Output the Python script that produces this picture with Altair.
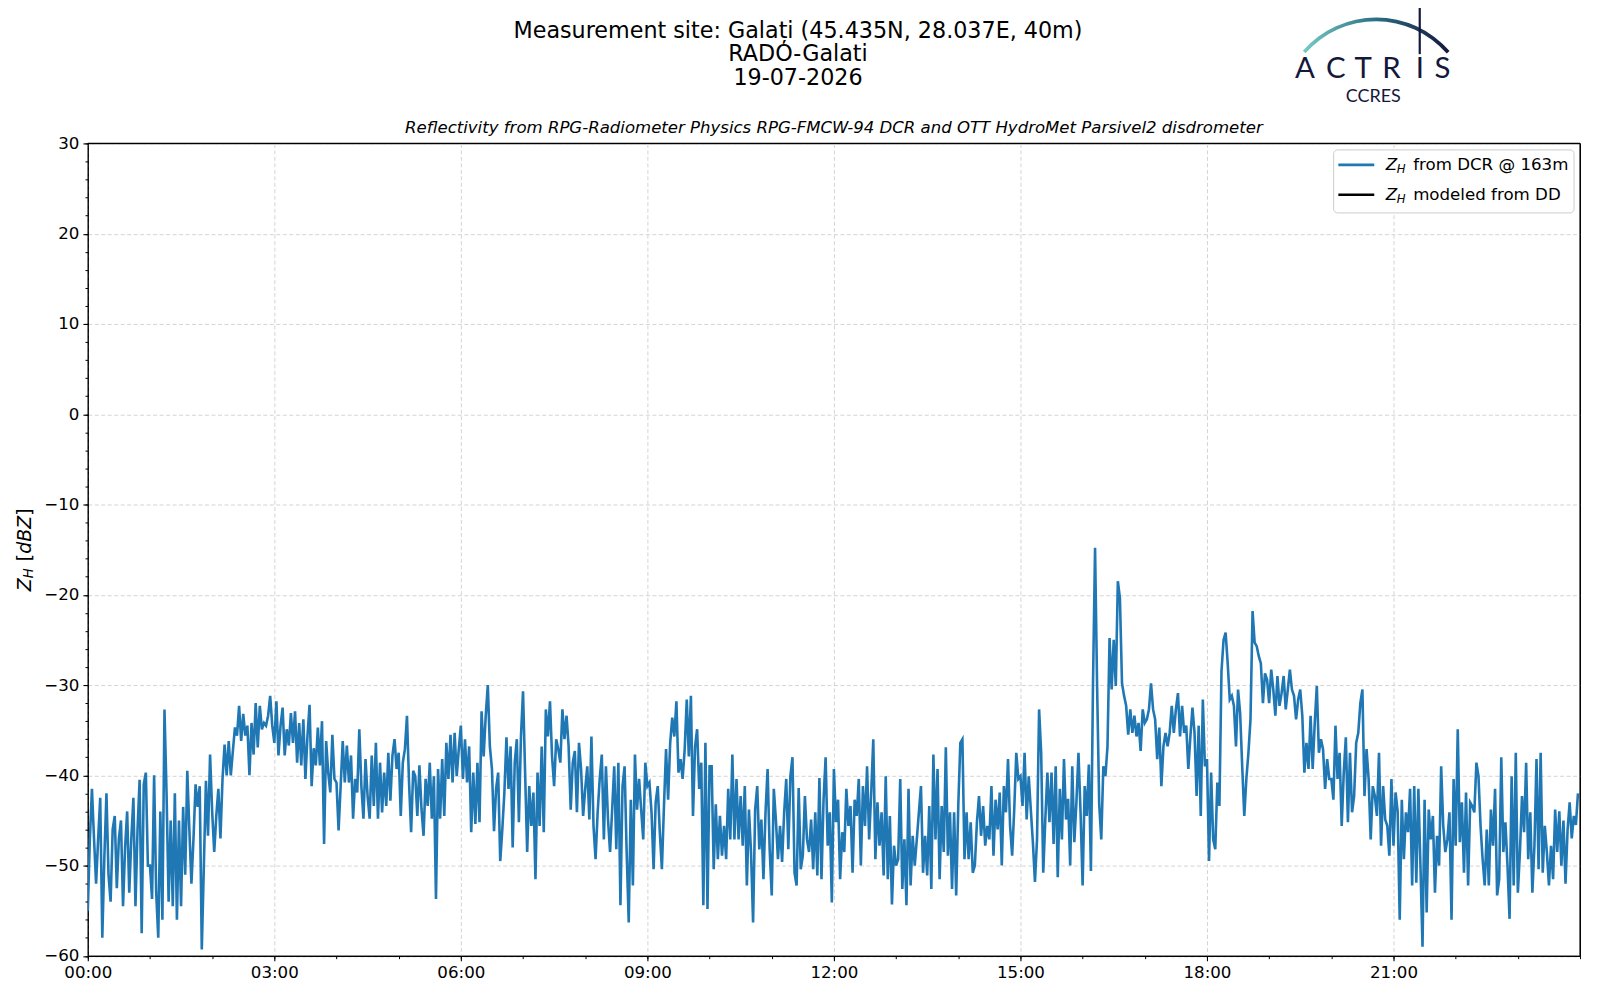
import altair as alt
import pandas as pd

# ---------------- data: Z_H from DCR, 2-minute samples, one list per hour ----------------
STEP_MIN = 2
zh_h00 = [-55, -47, -41.5, -47, -52, -47, -42.5, -58, -49, -42, -51, -54, -46, -44.5, -52.5, -47, -45, -54.5, -48, -44, -53, -47, -42.5, -54.5, -46, -40.5, -57.5, -41, -39.7, -50]
zh_h01 = [-50, -53.7, -40, -53, -58, -44, -56, -32.7, -42, -54, -45, -54.5, -42, -56, -45, -54.5, -43.5, -51, -39.5, -46, -52, -47, -41, -43.5, -41.2, -59.3, -50, -40.6, -46.7, -37.7]
zh_h02 = [-44, -48.5, -44.5, -41.5, -47, -40.4, -36.6, -40, -36.2, -40, -37.3, -34.7, -35.6, -32.3, -36.2, -33.2, -35.6, -34.5, -40, -34.2, -37.7, -32, -36.9, -32.3, -34.9, -34.2, -34.5, -33.4, -31.2, -34.5]
zh_h03 = [-36.4, -31.8, -37.8, -34.5, -32.5, -37.8, -34.9, -36.7, -33.1, -36.4, -32.9, -38.6, -34.2, -38.9, -33.8, -40.4, -35.6, -32.2, -41.2, -37, -38.9, -34.7, -38.9, -34, -47.6, -36.2, -39.7, -41.9, -35.5, -40.4]
zh_h04 = [-40.8, -46.1, -41.2, -36.2, -40.8, -36.7, -40.8, -37.8, -44.8, -40.4, -41.9, -34.9, -41.2, -44.8, -38.2, -42.3, -44.8, -37.8, -43.4, -36.4, -44.8, -38.6, -44.1, -39.7, -43.4, -37.5, -42.8, -37.8, -36, -39.3]
zh_h05 = [-37.5, -44.5, -38.6, -37.1, -33.4, -40.8, -46.3, -39.5, -40.1, -44.5, -38.9, -43.7, -46.7, -40.4, -43.4, -38.6, -44.8, -40.1, -53.7, -39.3, -44.8, -38.2, -44.5, -36.4, -40.4, -35.5, -40.8, -35.3, -40.1, -37.1]
zh_h06 = [-34.5, -40.4, -36, -40.8, -36.8, -46.3, -39.7, -45.4, -38.6, -45.2, -32.9, -37.9, -33.4, -30, -36.8, -39.3, -46.2, -41.5, -39.7, -49.5, -46, -41.9, -35.8, -41.5, -36.8, -48, -38.6, -36, -45.2, -35.7]
zh_h07 = [-30.7, -39.7, -48.5, -41.2, -45.6, -41.9, -51.5, -39.7, -45.6, -36.8, -46.3, -32.7, -35.7, -31.8, -37.9, -41.2, -36, -37.1, -38.6, -32.7, -36, -33.4, -36.8, -43.8, -38.6, -37.3, -44.1, -36.4, -39.3, -44.5]
zh_h08 = [-41.5, -39, -44.9, -35.7, -45.6, -49.3, -44.1, -40.4, -37.7, -47.1, -39, -44.9, -48.5, -43.8, -39, -48.2, -38.6, -54.4, -41.2, -39, -48.5, -56.3, -42.7, -52.2, -37.7, -43.8, -40.4, -43.8, -47.1, -38.6]
zh_h09 = [-41.2, -40.8, -44.1, -50.4, -43, -41.2, -46.3, -50.4, -43.4, -37.1, -42.7, -36.4, -33.6, -35.7, -31.8, -39.7, -38.2, -40.4, -37.1, -31.6, -37.9, -31.2, -44.5, -36.8, -34.9, -41.5, -38.6, -54.4, -36.4, -54.8]
zh_h10 = [-39, -39, -50.4, -43.2, -49.3, -44.5, -48.9, -45.6, -49.3, -41.5, -47.1, -37.7, -47.1, -40.4, -47.1, -42.3, -47.8, -41.2, -52.2, -43.8, -48.5, -56.3, -43.8, -41.2, -48.2, -44.9, -51.5, -44.1, -39.3, -48.2]
zh_h11 = [-53.3, -41.5, -44.9, -49.3, -45.6, -49.6, -44.1, -40.4, -48.2, -40.1, -38, -50.8, -52.2, -41.4, -50.4, -48.9, -42.3, -47.1, -48.5, -44.9, -50.4, -44.1, -51.1, -40.3, -51.5, -42.7, -38, -47.8, -44.1, -54.1]
zh_h12 = [-39.3, -45.2, -42.7, -51.5, -46.3, -48.5, -41.5, -45.6, -43.4, -50.8, -42.7, -44.5, -40.4, -50, -41.2, -45.6, -39, -47.1, -41.9, -36, -49.3, -43, -47.8, -44.1, -51.1, -40.1, -51.5, -44.5, -54.3, -47.8]
zh_h13 = [-50, -49.3, -40.4, -52.6, -47.1, -54.4, -41.5, -52.2, -46.7, -50, -47.1, -44.1, -41.2, -50.8, -46.7, -51.1, -43.4, -52.6, -37.7, -47.1, -39.3, -51.5, -43.4, -48.5, -36.9, -48.9, -44.1, -52.6, -44.1, -53.3]
zh_h14 = [-43.4, -36.4, -36, -49.3, -44.1, -49.3, -45.2, -50.8, -50, -45.2, -42.3, -46.7, -43.4, -47.8, -45.6, -47.1, -41.2, -48.9, -42.7, -46, -41.9, -50, -41.2, -44.1, -38.2, -45.6, -48.9, -43.8, -37.5, -40.4]
zh_h15 = [-40.1, -43.4, -37.5, -44.9, -40.1, -43.8, -47.4, -51.8, -47.1, -32.7, -37.5, -50.8, -44.9, -39.7, -45.2, -39.7, -47.6, -39, -51.3, -41.5, -47.1, -38.2, -44.9, -42.6, -50, -39, -47.4, -43, -37.5, -44.1]
zh_h16 = [-52.2, -41.2, -44.5, -38.8, -50.6, -30, -14.8, -30.3, -43.2, -47.1, -39, -40.1, -36.8, -24.8, -30.5, -25, -30.1, -18.5, -20.4, -29.8, -31.2, -32.3, -35.5, -32.7, -35.3, -33.4, -35.7, -34.2, -37.3, -32.7]
zh_h17 = [-34.2, -33.8, -32.7, -29.8, -32.7, -33.8, -38.2, -34.7, -41.2, -36.8, -35.3, -36.8, -35.3, -32.3, -35.3, -32.7, -30.9, -35.7, -32.3, -35.3, -34.5, -39.3, -35.7, -32.5, -35.3, -42.3, -34.5, -44.5, -31.6, -39]
zh_h18 = [-38.2, -49.5, -39.7, -47.1, -48.2, -40.8, -43.4, -28.5, -25, -24.2, -27.6, -31.6, -31.2, -32.3, -36.8, -30.5, -33.1, -39, -44.5, -40.4, -37.5, -33.8, -21.8, -25.3, -25.7, -26.8, -27.6, -32, -28.7, -29.4]
zh_h19 = [-32, -28.3, -30.5, -33.4, -29, -32.3, -30.9, -29, -32.7, -30.5, -28.3, -30.5, -31.2, -33.8, -31.6, -30.5, -33.4, -39.7, -36.4, -39.3, -33.4, -39.3, -34.2, -30.1, -37.5, -36, -37.1, -41.5, -38.2, -40.4]
zh_h20 = [-40.4, -42.7, -34.5, -40.4, -37.5, -45.6, -39.7, -35.8, -45.2, -37.5, -44.1, -42.3, -36.4, -35.3, -32, -30.5, -42.3, -37.1, -40.4, -47.1, -41.2, -42.3, -44.5, -37.5, -47.8, -41.2, -44.9, -45.6, -48.9, -40.4]
zh_h21 = [-47.8, -41.9, -44, -56, -42.7, -49.3, -44.1, -46.3, -41.5, -52.2, -41.2, -51.9, -41.5, -50, -59, -42.7, -55.2, -43.8, -47.1, -44.5, -53, -46.7, -50, -39, -45.6, -48.5, -47.1, -44.1, -56, -40.4]
zh_h22 = [-47.8, -34.9, -47.4, -43, -50.8, -41.9, -52.2, -43, -43.4, -44.1, -38.6, -40.1, -45.6, -49.3, -52.2, -46, -52.2, -43.8, -47.8, -41.5, -53.3, -51.5, -38, -48.5, -45.2, -50, -55.9, -40.1, -52.2, -37.5]
zh_h23 = [-53, -48.5, -42.3, -46.3, -38.6, -49.3, -44.1, -53, -47.8, -38.2, -50.4, -37.5, -50.8, -45.6, -48.5, -52.2, -47.8, -51.5, -43.8, -48.5, -44, -50, -45, -52, -46, -43, -47, -44.5, -45.5, -42]

hourly = [zh_h00, zh_h01, zh_h02, zh_h03, zh_h04, zh_h05, zh_h06, zh_h07, zh_h08, zh_h09,
          zh_h10, zh_h11, zh_h12, zh_h13, zh_h14, zh_h15, zh_h16, zh_h17, zh_h18, zh_h19,
          zh_h20, zh_h21, zh_h22, zh_h23]

title_lines = ["Measurement site: Galați (45.435N, 28.037E, 40m)", "RADO-Galati", "19-07-2026"]
subtitle = "Reflectivity from RPG-Radiometer Physics RPG-FMCW-94 DCR and OTT HydroMet Parsivel2 disdrometer"
legend_labels = ["from DCR @ 163m", "modeled from DD"]
x_major = [0, 180, 360, 540, 720, 900, 1080, 1260]
x_minor = list(range(0, 1441, 60))
y_major = list(range(-60, 31, 10))
y_minor = list(range(-60, 31, 2))

rows = []
for h, vals in enumerate(hourly):
    for i, v in enumerate(vals):
        rows.append({"minute": h * 60 + i * STEP_MIN, "zh": v})
df = pd.DataFrame(rows)

W, H = 1496, 814.5
BLUE = "#1f77b4"
NAVY = "#15173b"
FONT = "DejaVu Sans"

xscale = alt.Scale(domain=[0, 1440], nice=False, zero=False)
yscale = alt.Scale(domain=[-60, 30], nice=False, zero=False)

line = alt.Chart(df).mark_line(color=BLUE, strokeWidth=2.6, clip=True).encode(
    x=alt.X("minute:Q", scale=xscale, axis=alt.Axis(
        values=x_major, title=None, orient="bottom", labelFlush=False,
        labelExpr="(datum.value < 600 ? '0' : '') + floor(datum.value/60) + ':00'",
        labelFont=FONT, labelFontSize=16.7, labelColor="black", labelPadding=4,
        tickSize=4.9, tickColor="black", tickWidth=1.1,
        domainColor="black", domainWidth=1.1,
        grid=True, gridColor="#cfcfcf", gridDash=[4, 2.5], gridWidth=0.9)),
    y=alt.Y("zh:Q", scale=yscale, axis=alt.Axis(
        values=y_major, title=None, orient="left", format="d", labelFlush=False,
        labelFont=FONT, labelFontSize=16.7, labelColor="black", labelPadding=4,
        tickSize=4.9, tickColor="black", tickWidth=1.1,
        domainColor="black", domainWidth=1.1,
        grid=True, gridColor="#cfcfcf", gridDash=[4, 2.5], gridWidth=0.9)),
)

minor_df = pd.DataFrame({"minute": [0, 1440], "zh": [-60, 30]})
minor = alt.Chart(minor_df).mark_point(opacity=0).encode(
    x=alt.X("minute:Q", scale=xscale, axis=alt.Axis(
        values=x_minor, title=None, orient="bottom", labels=False, domain=False, grid=False,
        tickSize=2.8, tickColor="black", tickWidth=1.0)),
    y=alt.Y("zh:Q", scale=yscale, axis=alt.Axis(
        values=y_minor, title=None, orient="left", labels=False, domain=False, grid=False,
        tickSize=2.8, tickColor="black", tickWidth=1.0)),
)

one = alt.Data(values=[{"k": 0}])


def txt(text, x, y, size, **kw):
    props = dict(font=FONT, fontSize=size, color="black", align="center", baseline="alphabetic")
    props.update(kw)
    return alt.Chart(one).mark_text(**props).encode(
        x=alt.value(x), y=alt.value(y), text=alt.value(text))


layers = [line, minor]

# frame drawn on top (top and right spines)
layers.append(alt.Chart(one).mark_rule(color="black", strokeWidth=1.1).encode(
    x=alt.value(0), x2=alt.value(W), y=alt.value(0)))
layers.append(alt.Chart(one).mark_rule(color="black", strokeWidth=1.1).encode(
    x=alt.value(W), y=alt.value(0), y2=alt.value(H)))

# figure titles
cx = 712
layers.append(txt(title_lines[0], cx, -106, 22.3))
layers.append(txt(title_lines[1], cx, -82.5, 22.3))
layers.append(txt(title_lines[2], cx, -59, 22.3))
layers.append(txt(subtitle, W / 2, -10, 16.6, fontStyle="italic"))

# y axis title: Z_H [dBZ]
layers.append(txt("Z", -63, 449, 19, fontStyle="italic", angle=270, align="left", baseline="middle"))
layers.append(txt("H", -58.5, 436, 13.3, fontStyle="italic", angle=270, align="left", baseline="middle"))
layers.append(txt("[", -63, 418.9, 19, angle=270, align="left", baseline="middle"))
layers.append(txt("dBZ", -63, 411.5, 19, fontStyle="italic", angle=270, align="left", baseline="middle"))
layers.append(txt("]", -63, 373.4, 19, angle=270, align="left", baseline="middle"))

# legend box
layers.append(alt.Chart(one).mark_rect(fill="white", fillOpacity=0.85, stroke="#cccccc",
                                       strokeWidth=1, cornerRadius=4).encode(
    x=alt.value(1249), x2=alt.value(1490), y=alt.value(6.5), y2=alt.value(69.7)))
for row_y, col, lab in [(21.5, BLUE, legend_labels[0]), (51.5, "black", legend_labels[1])]:
    layers.append(alt.Chart(one).mark_rule(color=col, strokeWidth=2.6).encode(
        x=alt.value(1253.7), x2=alt.value(1289.7), y=alt.value(row_y)))
    layers.append(txt("Z", 1301.3, row_y, 16.7, fontStyle="italic", align="left", baseline="middle"))
    layers.append(txt("H", 1312.3, row_y + 4, 11.7, fontStyle="italic", align="left", baseline="middle"))
    layers.append(txt(lab, 1328.7, row_y, 16.7, align="left", baseline="middle"))

# ACTRIS logo
arc_grad = alt.LinearGradient(gradient="linear", x1=0, x2=1, y1=0, y2=0, stops=[
    alt.GradientStop(offset=0, color="#78cbc6"),
    alt.GradientStop(offset=0.5, color="#2b6f82"),
    alt.GradientStop(offset=1, color=NAVY)])
layers.append(alt.Chart(one).mark_arc(fill=arc_grad, radius=97.5, radius2=93.8).encode(
    theta=alt.value(5.43), theta2=alt.value(7.14), x=alt.value(1291.5), y=alt.value(-28.7)))
layers.append(alt.Chart(one).mark_rule(color=NAVY, strokeWidth=2.2).encode(
    x=alt.value(1335.3), y=alt.value(-140), y2=alt.value(-89.5)))
for letter, lx in zip("ACTRIS", [1220.3, 1251.3, 1278.7, 1307, 1335.3, 1358]):
    layers.append(txt(letter, lx, -66, 29.5, font="Lato", color=NAVY))
layers.append(txt("CCRES", 1288.7, -41.8, 18, font="Lato", color=NAVY))

chart = alt.layer(*layers).resolve_axis(x="independent", y="independent").properties(
    width=W, height=H,
    autosize=alt.AutoSizeParams(type="none"),
    padding={"left": 80, "top": 134.5, "right": 12, "bottom": 40},
    background="white",
).configure_view(stroke="black", strokeWidth=1.1)

chart.save("out.html", embed_options={"renderer": "svg", "actions": False})
